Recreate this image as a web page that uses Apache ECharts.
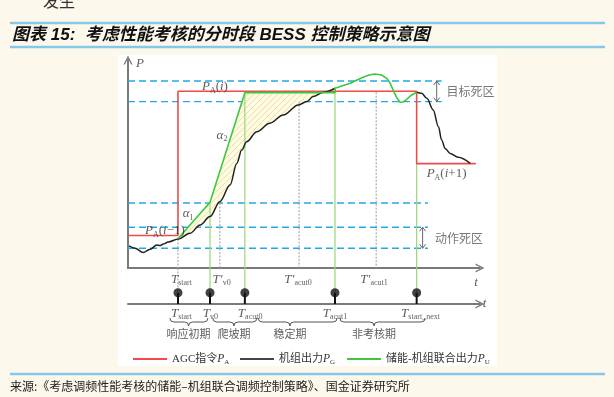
<!DOCTYPE html>
<html>
<head>
<meta charset="utf-8">
<script src="https://cdn.jsdelivr.net/npm/echarts@6/dist/echarts.min.js"></script>
<style>
  html, body { margin: 0; padding: 0; background: #fcf8ec; }
  #chart { width: 614px; height: 397px; }
</style>
</head>
<body>
<div id="chart"></div>
<script>
// AGC command P_A (step)
var agcX = [0, 14.2, 14.2, 82.0, 82.0, 98.8];
var agcY = [15.6, 15.6, 85.0, 85.0, 50.2, 50.2];
// unit output P_G ('-' = hidden under the combined curve)
var genX = [0.3, 2.0, 4.3, 6.3, 8.2, 9.1, 10.0, 11.4, 14.3, 17.6, 20.5, 23.3, 26.1, 29.0, 30.9, 32.3, 33.7, 36.6, 40.3, 44.1, 48.4, 50.8, 52.6, 55.5, 58.8, 70.0, 82.0, 83.4, 84.9, 86.7, 88.2, 89.1, 90.1, 91.5, 93.8, 97.2];
var genY = [10.6, 9.5, 7.4, 9.0, 11.1, 10.8, 11.5, 12.5, 13.9, 16.7, 20.7, 24.7, 31.9, 39.9, 50.3, 56.7, 60.7, 65.5, 69.6, 73.6, 78.4, 80.0, 82.4, 84.5, 86.4, '-', 84.5, 84.0, 81.6, 76.0, 67.9, 61.5, 57.5, 55.1, 53.2, 50.3];
// storage + unit combined output P_U
var unitX = [14.3, 23.3, 33.2, 58.8, 58.8, 63.1, 66.8, 68.5, 70.2, 72.0, 73.5, 74.5, 75.3, 76.3, 77.3, 78.0, 78.7, 80.6, 82.0];
var unitY = [14.3, 31.6, 84.3, 84.3, 86.4, 88.8, 91.7, 92.8, 93.3, 92.8, 91.2, 88.8, 85.6, 82.0, 79.7, 79.8, 80.4, 83.2, 84.5];

// dead band levels
var bandY = [89.9, 80.0, 31.25, 19.6, 9.5];
var bandEnd = [89.1, 89.1, 85.2, 85.2, 85.2];
var arrowX = [87.7, 83.7];
var arrowTop = [89.9, 19.6];
var arrowBottom = [80.0, 9.5];

// assessment time points
var eventX = [14.2, 23.3, 33.2, 58.8, 82.0];
var eventTop = [13.9, 31.6, 84.3, 86.4, 50.2];
var eventGreen = [false, true, true, true, true];
var eventText = ['{i|T}{s|start}', '{i|T}{s|v0}', '{i|T}{s|acut0}', '{i|T}{s|acut1}', '{i|T}{s|start_next}'];
var eventLabelX = [15.2, 23.4, 34.7, 58.8, 83.1];
var primeX = [26.1, 48.6, 70.5];
var primeTop = [31.25, 80.0, 84.5];
var mainTickText = ['{i|T}{s|start}', '{i|T′}{s|v0}', '{i|T′}{s|acut0}', '{i|T′}{s|acut1}'];
var mainTickX = [15.2, 26.6, 48.3, 69.9];

// phases
var phaseNames = ['响应初期', '爬坡期', '稳定期', '非考核期'];
var phaseX = [17.2, 30.1, 46.0, 69.9];
var braceFrom = [11.9, 24.1, 37.0, 60.2];
var braceTo = [22.7, 36.6, 59.4, 84.4];

// annotations
var noteText = ['{i|P}', '{i|P}{s|A}{n|(}{i|i}{n|)}', '{i|α}{s|2}', '{i|α}{s|1}', '{i|P}{s|A}{n|(}{i|i}{n|−1)}', '{i|P}{s|A}{n|(}{i|i}{n|+1)}', '{c|目标死区}', '{c|动作死区}'];
var noteX = [3.4, 24.7, 26.7, 17.1, 10.5, 90.5, 90.5, 87.2];
var noteY = [98.5, 87.3, 63.9, 26.0, 17.9, 45.2, 84.8, 14.3];

var serif = "'Liberation Serif', 'DejaVu Serif', serif";
var cjk = "'Noto Sans CJK SC', sans-serif";
var rich = {
  i: { fontFamily: serif, fontStyle: 'italic', fontSize: 13, color: '#333' },
  n: { fontFamily: serif, fontSize: 13, color: '#333' },
  s: { fontFamily: serif, fontSize: 8, color: '#333', padding: [8, 0, 0, 0] },
  c: { fontFamily: cjk, fontSize: 12, color: '#555' },
  p: { fontFamily: cjk, fontSize: 11, color: '#333' }
};
var legendRich = {
  n: { fontFamily: serif + ", 'Noto Sans CJK SC'", fontSize: 11, color: '#333' },
  i: { fontFamily: serif, fontStyle: 'italic', fontSize: 11.5, color: '#333' },
  s: { fontFamily: serif, fontSize: 7, color: '#333', padding: [7, 0, 0, 0] }
};

var chevron = 'path://M0,10 L5,0 L10,10 L8.4,10 L5,3.2 L1.6,10 Z';

var hatch = document.createElement('canvas');
hatch.width = 6; hatch.height = 6;
var hc = hatch.getContext('2d');
hc.fillStyle = '#fefbe2';
hc.fillRect(0, 0, 6, 6);
hc.strokeStyle = '#e4da9c';
hc.lineWidth = 0.8;
hc.beginPath();
hc.moveTo(0, 6); hc.lineTo(6, 0);
hc.moveTo(-1, 1); hc.lineTo(1, -1);
hc.moveTo(5, 7); hc.lineTo(7, 5);
hc.stroke();

function pairs(xs, ys) {
  return xs.map(function (x, i) { return [x, ys[i]]; });
}

// hatched gap between P_U and P_G during the response/ramp
var hatchPoly = pairs(unitX.slice(0, 3), unitY.slice(0, 3)).concat([[55.5, 84.3]]);
pairs(genX, genY).filter(function (p) {
  return p[1] !== '-' && p[0] >= 14.3 && p[0] <= 55.5;
}).reverse().forEach(function (p) { hatchPoly.push(p); });

var chart = echarts.init(document.getElementById('chart'));

var axisStyle = { color: '#7a7a7a', width: 2 };

function vline(api, x, y1, y2, style) {
  var a = api.coord([x, y1]);
  var b = api.coord([x, y2]);
  return { type: 'line', shape: { x1: a[0], y1: a[1], x2: b[0], y2: b[1] }, style: style };
}
var grayDot = { stroke: '#9a9a9a', lineWidth: 1, lineDash: [2, 1.5] };
var greenLine = { stroke: '#9bd679', lineWidth: 1.2 };

var legendNames = {
  'AGC指令': '{n|AGC指令}{i|P}{s|A}',
  '机组出力': '{n|机组出力}{i|P}{s|G}',
  '储能-机组联合出力': '{n|储能-机组联合出力}{i|P}{s|U}'
};
function legendAt(name, left) {
  return {
    data: [name], left: left, top: 348, icon: 'rect', itemWidth: 34, itemHeight: 2,
    selectedMode: false, textStyle: { rich: legendRich },
    formatter: function (n) { return legendNames[n]; }
  };
}

var option = {
  backgroundColor: '#fcf8ec',
  animation: false,
  legend: [legendAt('AGC指令', 128), legendAt('机组出力', 235), legendAt('储能-机组联合出力', 342)],
  grid: [
    { left: 128, top: 60, width: 352, height: 208 },
    { left: 128, top: 268, width: 352, height: 80 }
  ],
  xAxis: [
    { gridIndex: 0, type: 'value', min: 0, max: 100,
      axisLine: { lineStyle: axisStyle, symbol: ['none', chevron], symbolSize: [9, 11] },
      axisTick: { show: false }, axisLabel: { show: false }, splitLine: { show: false } },
    { gridIndex: 1, type: 'value', min: 0, max: 100,
      axisLine: { lineStyle: axisStyle, symbol: ['none', chevron], symbolSize: [9, 11] },
      axisTick: { show: false }, axisLabel: { show: false }, splitLine: { show: false } }
  ],
  yAxis: [
    { gridIndex: 0, type: 'value', min: 0, max: 100,
      axisLine: { show: true, lineStyle: axisStyle, symbol: ['none', chevron], symbolSize: [9, 11] },
      axisTick: { show: false }, axisLabel: { show: false }, splitLine: { show: false } },
    { gridIndex: 1, type: 'value', min: -1.1, max: 0.9, show: false }
  ],
  graphic: [
    { type: 'rect', z: -10, shape: { x: 118, y: 55, width: 379, height: 311 }, style: { fill: '#ffffff' } },
    { type: 'text', x: 43, y: 1, style: { text: '发生', font: "16px 'Noto Sans CJK SC'", fill: '#333', textVerticalAlign: 'middle' } },
    { type: 'line', shape: { x1: 10, y1: 23, x2: 605, y2: 23 }, style: { stroke: '#86c8ea', lineWidth: 2.5 } },
    { type: 'line', shape: { x1: 10, y1: 47, x2: 605, y2: 47 }, style: { stroke: '#86c8ea', lineWidth: 2.5 } },
    { type: 'text', x: 12, y: 35, style: { text: '图表 15:  考虑性能考核的分时段 BESS 控制策略示意图', font: "italic bold 17px 'Liberation Sans', 'Noto Sans CJK SC'", fill: '#111', textVerticalAlign: 'middle' } },
    { type: 'line', shape: { x1: 10, y1: 374, x2: 605, y2: 374 }, style: { stroke: '#86c8ea', lineWidth: 2.5 } },
    { type: 'text', x: 10, y: 386, style: { text: '来源:《考虑调频性能考核的储能–机组联合调频控制策略》、国金证券研究所', font: "12px 'Noto Sans CJK SC'", fill: '#222', textVerticalAlign: 'middle' } }
  ],
  series: [
    { // dead band dashed lines
      type: 'custom', xAxisIndex: 0, yAxisIndex: 0, silent: true, z: 1,
      data: pairs(bandY, bandEnd),
      renderItem: function (params, api) {
        var a = api.coord([0, api.value(0)]);
        var b = api.coord([api.value(1), api.value(0)]);
        return { type: 'line', shape: { x1: a[0], y1: a[1], x2: b[0], y2: b[1] },
          style: { stroke: '#22a9e6', lineWidth: 1.3, lineDash: [7, 4] } };
      }
    },
    { // hatched area
      type: 'custom', xAxisIndex: 0, yAxisIndex: 0, silent: true, z: 1,
      data: [[0, 0]],
      renderItem: function (params, api) {
        return { type: 'polygon', shape: { points: hatchPoly.map(function (p) { return api.coord(p); }) },
          style: { fill: { image: hatch, repeat: 'repeat' } } };
      }
    },
    { // vertical markers in the main plot
      type: 'custom', xAxisIndex: 0, yAxisIndex: 0, silent: true, z: 2,
      data: eventX.map(function (x, i) { return [x, eventTop[i], eventGreen[i] ? 1 : 0]; })
        .concat(primeX.map(function (x, i) { return [x, primeTop[i], 0]; })),
      renderItem: function (params, api) {
        return vline(api, api.value(0), api.value(1), 0, api.value(2) ? greenLine : grayDot);
      }
    },
    { name: 'AGC指令', type: 'line', xAxisIndex: 0, yAxisIndex: 0, z: 3,
      data: pairs(agcX, agcY), symbol: 'none', lineStyle: { color: '#f04a4a', width: 1.6 }, itemStyle: { color: '#f04a4a' } },
    { name: '机组出力', type: 'line', xAxisIndex: 0, yAxisIndex: 0, z: 4,
      data: pairs(genX, genY), symbol: 'none', smooth: 0.35, smoothMonotone: 'x', connectNulls: false,
      lineStyle: { color: '#222', width: 1.5 }, itemStyle: { color: '#444' } },
    { name: '储能-机组联合出力', type: 'line', xAxisIndex: 0, yAxisIndex: 0, z: 5,
      data: pairs(unitX, unitY), symbol: 'none',
      lineStyle: { color: '#3cc83c', width: 1.6 }, itemStyle: { color: '#3cc83c' } },
    { // dead band double arrows
      type: 'custom', xAxisIndex: 0, yAxisIndex: 0, silent: true, z: 5,
      data: arrowX.map(function (x, i) { return [x, arrowTop[i], arrowBottom[i]]; }),
      renderItem: function (params, api) {
        var a = api.coord([api.value(0), api.value(1)]);
        var b = api.coord([api.value(0), api.value(2)]);
        var st = { stroke: '#666', lineWidth: 1, fill: null };
        return { type: 'group', children: [
          { type: 'line', shape: { x1: a[0], y1: a[1], x2: b[0], y2: b[1] }, style: st },
          { type: 'polyline', shape: { points: [[a[0] - 3, a[1] + 4], [a[0], a[1]], [a[0] + 3, a[1] + 4]] }, style: st },
          { type: 'polyline', shape: { points: [[b[0] - 3, b[1] - 4], [b[0], b[1]], [b[0] + 3, b[1] - 4]] }, style: st }
        ] };
      }
    },
    { // text annotations
      type: 'scatter', xAxisIndex: 0, yAxisIndex: 0, symbolSize: 0, clip: false, silent: true, z: 6,
      data: noteX.map(function (x, i) {
        return { value: [x, noteY[i]], label: { formatter: noteText[i], align: noteText[i].indexOf('{c|') === 0 ? 'left' : 'center' } };
      }),
      label: { show: true, position: 'inside', verticalAlign: 'middle', rich: rich }
    },
    { // event markers in the lower timeline
      type: 'custom', xAxisIndex: 1, yAxisIndex: 1, silent: true, z: 2,
      data: eventX.map(function (x, i) { return [x, eventGreen[i] ? 1 : 0]; }),
      renderItem: function (params, api) {
        var x = api.value(0);
        return { type: 'group', children: [
          vline(api, x, 0.9, 0.28, api.value(1) ? greenLine : grayDot),
          vline(api, x, 0.28, 0, { stroke: '#111', lineWidth: 2 })
        ] };
      }
    },
    { type: 'scatter', xAxisIndex: 1, yAxisIndex: 1, silent: true, z: 3,
      data: eventX.map(function (x) { return [x, 0.28]; }),
      symbolSize: 9, itemStyle: { color: '#111' } },
    { // braces under phases
      type: 'custom', xAxisIndex: 1, yAxisIndex: 1, silent: true, z: 3,
      data: braceFrom.map(function (x, i) { return [x, braceTo[i], phaseX[i]]; }),
      renderItem: function (params, api) {
        var y = api.coord([0, -0.45])[1];
        var x1 = api.coord([api.value(0), 0])[0];
        var x2 = api.coord([api.value(1), 0])[0];
        var xm = api.coord([api.value(2), 0])[0];
        var h = 4;
        var st = { stroke: '#555', lineWidth: 1, fill: null };
        function bz(ax, ay, cx, cy, bx, by) {
          return { type: 'bezierCurve', shape: { x1: ax, y1: ay, cpx1: cx, cpy1: cy, x2: bx, y2: by }, style: st };
        }
        return { type: 'group', children: [
          bz(x1, y - h, x1, y, x1 + h, y),
          { type: 'line', shape: { x1: x1 + h, y1: y, x2: xm - h, y2: y }, style: st },
          bz(xm - h, y, xm, y, xm, y + h),
          bz(xm, y + h, xm, y, xm + h, y),
          { type: 'line', shape: { x1: xm + h, y1: y, x2: x2 - h, y2: y }, style: st },
          bz(x2 - h, y, x2, y, x2, y - h)
        ] };
      }
    },
    { // time labels and phase names
      type: 'scatter', xAxisIndex: 1, yAxisIndex: 1, symbolSize: 0, clip: false, silent: true, z: 6,
      data: mainTickX.map(function (x, i) { return { value: [x, 0.62], label: { formatter: mainTickText[i] } }; })
        .concat(eventLabelX.map(function (x, i) { return { value: [x, -0.23], label: { formatter: eventText[i] } }; }))
        .concat(phaseX.map(function (x, i) { return { value: [x, -0.75], label: { formatter: '{p|' + phaseNames[i] + '}' } }; }))
        .concat([{ value: [98.9, 0.53], label: { formatter: '{i|t}' } }, { value: [101.3, 0.02], label: { formatter: '{i|t}' } }]),
      label: { show: true, position: 'inside', align: 'center', verticalAlign: 'middle', rich: rich }
    }
  ]
};
chart.setOption(option);
</script>
</body>
</html>
